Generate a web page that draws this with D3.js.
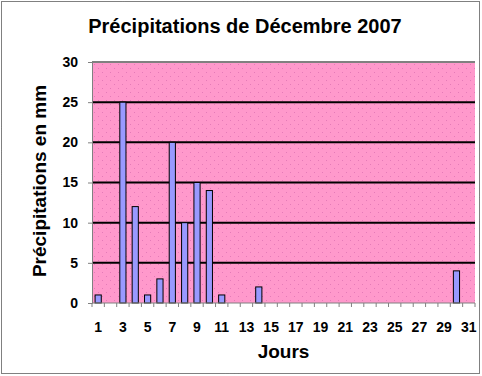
<!doctype html>
<html>
  <head>
    <meta charset="utf-8">
    <script src="https://cdn.jsdelivr.net/npm/d3@7/dist/d3.min.js"></script>
    <style>
      body { margin: 0; background: #fff; }
      text { font-family: "Liberation Sans", Arial, sans-serif; font-weight: bold; }
    </style>
  </head>
  <body>
    <svg id="chart" width="482" height="376"></svg>
    <script>
      // jours 1..31 et pluie en mm
      var jours = d3.range(1, 32);
      var pluie = [1, 0, 25, 12, 1, 3, 20, 10, 15, 14, 1, 0, 0, 2, 0, 0, 0, 0, 0, 0,
                   0, 0, 0, 0, 0, 0, 0, 0, 0, 4, 0];
      var yTicks = [0, 5, 10, 15, 20, 25, 30];
      var xLabels = jours.filter(d => d % 2 == 1);

      var svg = d3.select("#chart");
      var pL = 92, pR = 475, pT = 62, pB = 303;

      // fond pointillé rose
      var pat = svg.append("defs").append("pattern")
        .attr("id", "dots").attr("width", 8).attr("height", 8)
        .attr("patternUnits", "userSpaceOnUse")
        .attr("x", pL).attr("y", pT);
      pat.append("rect").attr("width", 8).attr("height", 8).style("fill", "#ff99cc");
      pat.append("rect").attr("x", 2).attr("y", 2).attr("width", 1).attr("height", 1).style("fill", "#e57ab8");
      pat.append("rect").attr("x", 6).attr("y", 6).attr("width", 1).attr("height", 1).style("fill", "#e57ab8");

      // cadre extérieur
      svg.append("rect")
        .attr("x", 1.5).attr("y", 1.5).attr("width", 478).attr("height", 372)
        .style("fill", "white").style("stroke", "black").style("stroke-dasharray", "1,1");

      var xScale = d3.scaleBand().domain(jours).range([pL, pR]).paddingInner(0.5).paddingOuter(0.25);
      var yScale = d3.scaleLinear().domain([0, 30]).range([pB, pT]);

      svg.append("rect")
        .attr("x", pL).attr("y", pT)
        .attr("width", pR - pL).attr("height", pB - pT)
        .style("fill", "url(#dots)");

      svg.append("line")
        .attr("x1", pL).attr("x2", pR).attr("y1", pT).attr("y2", pT)
        .style("stroke", "#808080").style("stroke-width", 2);

      // lignes de quadrillage
      svg.selectAll("line.grid")
        .data(yTicks.filter(d => d > 0 && d < 30))
        .enter().append("line")
          .attr("class", "grid")
          .attr("x1", pL).attr("x2", pR)
          .attr("y1", d => yScale(d)).attr("y2", d => yScale(d))
          .style("stroke", "black").style("stroke-width", 2);

      var yAxis = d3.axisLeft(yScale).tickValues(yTicks).tickSize(4).tickPadding(10);
      var yG = svg.append("g")
        .attr("transform", `translate(${pL},0)`)
        .call(yAxis);
      yG.select(".domain").style("stroke", "#808080");
      yG.selectAll(".tick line").style("stroke", "#808080");
      yG.selectAll("text").style("font-size", "14px").style("fill", "black");

      // barres
      svg.selectAll("rect.bar")
        .data(pluie)
        .enter().append("rect")
          .attr("class", "bar")
          .attr("x", (d, i) => xScale(jours[i]))
          .attr("width", xScale.bandwidth())
          .attr("y", d => yScale(d))
          .attr("height", d => yScale(0) - yScale(d))
          .style("fill", "#9999ff")
          .style("stroke", "black")
          .style("stroke-width", 1);

      // axe x : graduations aux limites de catégories
      var bounds = d3.range(0, 32).map(i => pL + i * (pR - pL) / 31);
      svg.append("line")
        .attr("x1", pL).attr("x2", pR).attr("y1", pB).attr("y2", pB)
        .style("stroke", "#808080");
      svg.selectAll("line.xtick")
        .data(bounds).enter().append("line")
          .attr("class", "xtick")
          .attr("x1", d => d).attr("x2", d => d)
          .attr("y1", pB).attr("y2", pB + 4)
          .style("stroke", "#808080");

      svg.selectAll("text.xlab")
        .data(xLabels).enter().append("text")
          .attr("class", "xlab")
          .attr("x", d => xScale(d) + xScale.bandwidth() / 2)
          .attr("y", 332)
          .attr("text-anchor", "middle")
          .style("font-size", "14px")
          .text(d => d);

      svg.append("text")
        .attr("x", pL + (pR - pL) / 2).attr("y", 358)
        .attr("text-anchor", "middle")
        .style("font-size", "19px")
        .text("Jours");

      svg.append("text")
        .attr("transform", "translate(46,181) rotate(-90)")
        .attr("text-anchor", "middle")
        .style("font-size", "19px")
        .text("Précipitations en mm");

      svg.append("text")
        .attr("x", 245).attr("y", 33)
        .attr("text-anchor", "middle")
        .style("font-size", "20px")
        .text("Précipitations de Décembre 2007");
    </script>
  </body>
</html>
